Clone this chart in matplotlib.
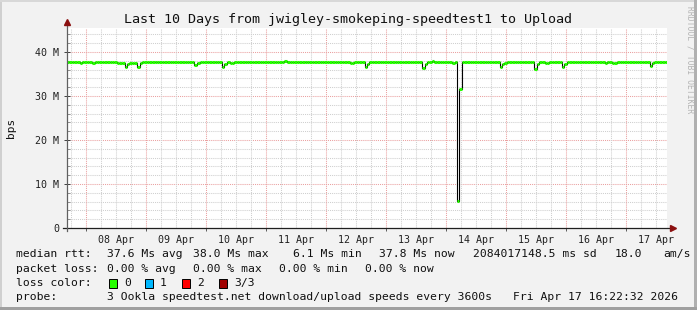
import numpy as np
import pandas as pd
import matplotlib
matplotlib.use('Agg')
import matplotlib.pyplot as plt
import matplotlib.dates as mdates
from matplotlib.patches import Rectangle
from matplotlib.lines import Line2D
from matplotlib.ticker import FuncFormatter, MultipleLocator, FixedLocator

W, H = 697, 310

# time window of the graph (hourly probes)
START = '2026-04-07 16:22:32'
END = '2026-04-17 16:22:32'

# median upload speed (Mbit/s), one row = 24 hourly probes
median_rows = [
    [37.7, 37.8, 37.8, 37.7, 37.8, 37.5, 37.7, 37.8, 37.8, 37.8, 37.5, 37.7,
     37.8, 37.8, 37.8, 37.8, 37.8, 37.7, 37.8, 37.8, 37.5, 37.6, 37.4, 36.5],
    [37.3, 37.6, 37.5, 37.6, 36.6, 37.4, 37.7, 37.7, 37.8, 37.8, 37.8, 37.8,
     37.8, 37.8, 37.8, 37.8, 37.8, 37.8, 37.8, 37.8, 37.8, 37.8, 37.8, 37.8],
    [37.8, 37.8, 37.8, 37.1, 37.6, 37.7, 37.7, 37.7, 37.8, 37.8, 37.8, 37.8,
     37.8, 37.8, 36.6, 37.3, 37.7, 37.6, 37.4, 37.7, 37.7, 37.8, 37.7, 37.7],
    [37.7, 37.7, 37.8, 37.7, 37.7, 37.8, 37.8, 37.7, 37.7, 37.7, 37.8, 37.8,
     37.7, 37.7, 37.8, 38.0, 37.8, 37.7, 37.7, 37.8, 37.8, 37.8, 37.8, 37.8],
    [37.8, 37.8, 37.8, 37.8, 37.8, 37.7, 37.7, 37.8, 37.7, 37.7, 37.8, 37.7,
     37.8, 37.8, 37.7, 37.7, 37.8, 37.6, 37.4, 37.7, 37.8, 37.8, 37.8, 36.5],
    [37.3, 37.7, 37.8, 37.8, 37.8, 37.8, 37.7, 37.8, 37.8, 37.8, 37.8, 37.8,
     37.8, 37.8, 37.7, 37.7, 37.7, 37.7, 37.7, 37.7, 37.7, 37.7, 36.3, 37.3],
    [37.8, 37.8, 37.9, 37.8, 37.8, 37.8, 37.7, 37.7, 37.7, 37.7, 37.6, 37.8,
     6.1, 31.6, 37.8, 37.8, 37.8, 37.8, 37.8, 37.7, 37.8, 37.8, 37.8, 37.8],
    [37.8, 37.8, 37.7, 37.7, 37.7, 36.6, 37.3, 37.6, 37.7, 37.8, 37.7, 37.8,
     37.7, 37.8, 37.7, 37.7, 37.8, 37.7, 37.7, 36.1, 37.3, 37.7, 37.7, 37.4],
    [37.5, 37.7, 37.8, 37.8, 37.7, 37.7, 36.7, 37.3, 37.8, 37.8, 37.8, 37.8,
     37.8, 37.8, 37.8, 37.8, 37.8, 37.7, 37.7, 37.7, 37.8, 37.7, 37.8, 37.6],
    [37.8, 37.7, 37.5, 37.6, 37.8, 37.8, 37.8, 37.8, 37.8, 37.8, 37.8, 37.8,
     37.8, 37.8, 37.7, 37.7, 37.7, 36.9, 37.4, 37.7, 37.8, 37.7, 37.7, 37.8],
]

day_labels = ['08 Apr', '09 Apr', '10 Apr', '11 Apr', '12 Apr',
              '13 Apr', '14 Apr', '15 Apr', '16 Apr', '17 Apr']

title = 'Last 10 Days from jwigley-smokeping-speedtest1 to Upload'

rtt_stats = ['37.6 Ms avg', '38.0 Ms max', '6.1 Ms min', '37.8 Ms now',
             '2084017148.5 ms sd', '18.0', 'am/s']
loss_stats = ['0.00 % avg', '0.00 % max', '0.00 % min', '0.00 % now']
loss_labels = ['0', '1', '2', '3/3']
loss_colors = ['#26ff00', '#00b8ff', '#ff0000', '#a00000']
probe_text = '3 Ookla speedtest.net download/upload speeds every 3600s'
stamp_text = 'Fri Apr 17 16:22:32 2026'

MONO = 'DejaVu Sans Mono'
plt.rcParams['font.family'] = MONO


def fx(x):
    return x / W


def fy(y):
    return 1 - y / H


values = np.concatenate([np.array(r, dtype=float) for r in median_rows])
t_edges = pd.date_range(START, END, periods=len(values) + 1)
x_edges = mdates.date2num(t_edges.to_pydatetime())
x0, x1 = x_edges[0], x_edges[-1]

fig = plt.figure(figsize=(W / 100, H / 100), dpi=100, facecolor='#f2f2f2')

# 3d-ish canvas frame
frame = [((0, 0), 2 / W, 1, '#d0d0d0'), ((0, 1 - 2 / H), 1, 2 / H, '#d8d8d8'),
         ((1 - 3 / W, 0), 3 / W, 1, '#b0b0b0'), ((0, 0), 1, 3 / H, '#a0a0a0')]
for xy, w, h, c in frame:
    fig.patches.append(Rectangle(xy, w, h, transform=fig.transFigure,
                                 facecolor=c, edgecolor='none', zorder=0))

ax = fig.add_axes([fx(67), fy(228), 600 / W, 200 / H])
ax.set_facecolor('white')
ax.set_xlim(x0, x1)
ax.set_ylim(0, 45.45)

# grid
dot = (0, (1, 1))
for v in np.arange(2, 46, 2):
    major = v % 10 == 0
    ax.axhline(v, color='#eaa0a0' if major else '#cfcfcf', lw=0.75,
               ls=dot, zorder=1)
grid_times = pd.date_range('2026-04-07 18:00', END, freq='6h')
for t in grid_times:
    major = t.hour == 0
    ax.axvline(mdates.date2num(t.to_pydatetime()),
               color='#eaa0a0' if major else '#cfcfcf', lw=0.75, ls=dot, zorder=1)

# median line: black step, loss-coloured flats on top
ax.step(x_edges, np.append(values, values[-1]), where='post',
        color='#000000', lw=0.8, zorder=3)
ax.hlines(values, x_edges[:-1], x_edges[1:], color=loss_colors[0],
          lw=2.2, zorder=4)

# axes & ticks
for s in ax.spines.values():
    s.set_visible(False)
ax.add_line(Line2D([-4 / 600, 1 + 5 / 600], [0, 0], transform=ax.transAxes,
                   color='#202020', lw=0.9, clip_on=False, zorder=5))
ax.add_line(Line2D([0, 0], [-3 / 200, 1 + 5 / 200], transform=ax.transAxes,
                   color='#606060', lw=0.9, clip_on=False, zorder=5))
ax.plot([1 + 6 / 600], [0], marker='>', ms=4, color='#8b1010',
        transform=ax.transAxes, clip_on=False, zorder=6)
ax.plot([0], [1 + 6 / 200], marker='^', ms=4, color='#8b1010',
        transform=ax.transAxes, clip_on=False, zorder=6)

ax.yaxis.set_major_locator(MultipleLocator(10))
ax.yaxis.set_minor_locator(MultipleLocator(2))
ax.yaxis.set_major_formatter(FuncFormatter(lambda v, _: '0' if v == 0 else f'{v:.0f} M'))
ax.tick_params(axis='y', which='major', direction='inout', length=4, width=0.7,
               color='#404040', pad=3.5, labelsize=7.2, labelcolor='#202020')
ax.tick_params(axis='y', which='minor', direction='in', length=2, width=0.6,
               color='#808080')

label_pos = [mdates.date2num(pd.Timestamp(f'2026-04-{d[:2]} 12:00').to_pydatetime())
             for d in day_labels]
midnights = [mdates.date2num(t.to_pydatetime()) for t in grid_times if t.hour == 0]
ax.xaxis.set_major_locator(FixedLocator(label_pos))
ax.set_xticklabels(day_labels)
ax.xaxis.set_minor_locator(FixedLocator(midnights))
ax.tick_params(axis='x', which='major', length=0, pad=5, labelsize=7.2,
               labelcolor='#202020')
ax.tick_params(axis='x', which='minor', direction='out', length=2, width=0.6,
               color='#404040')

# texts
fig.text(fx(348), fy(19), title, ha='center', va='center', fontsize=9.6,
         color='#101010')
fig.text(fx(11), fy(128), 'bps', rotation=90, ha='center', va='center',
         fontsize=8, color='#101010')
fig.text(fx(690), fy(60), 'RRDTOOL / TOBI OETIKER', rotation=270,
         ha='center', va='center', fontsize=5.8, color='#b4b4b4')

leg_fs = 8.2
rows_y = [254, 268.5, 283, 297.5]


def leg(x, y, s):
    fig.text(fx(x), fy(y), s, ha='left', va='center', fontsize=leg_fs,
             color='#101010')


leg(16, rows_y[0], 'median rtt:')
for x, s in zip([107, 193, 293, 379, 473, 615, 663], rtt_stats):
    leg(x, rows_y[0], s)

leg(16, rows_y[1], 'packet loss:')
for x, s in zip([107, 193, 279, 365], loss_stats):
    leg(x, rows_y[1], s)

leg(16, rows_y[2], 'loss color:')
for bx, lab, c in zip([109, 145, 182, 219], loss_labels, loss_colors):
    fig.patches.append(Rectangle((fx(bx), fy(rows_y[2] + 4.5)), 8 / W, 9 / H,
                                 transform=fig.transFigure, facecolor=c,
                                 edgecolor='#000000', lw=0.7))
    leg(bx + 15, rows_y[2], lab)

leg(16, rows_y[3], 'probe:')
leg(107, rows_y[3], probe_text)
leg(513, rows_y[3], stamp_text)

fig.savefig('out.png', dpi=100, facecolor=fig.get_facecolor())
